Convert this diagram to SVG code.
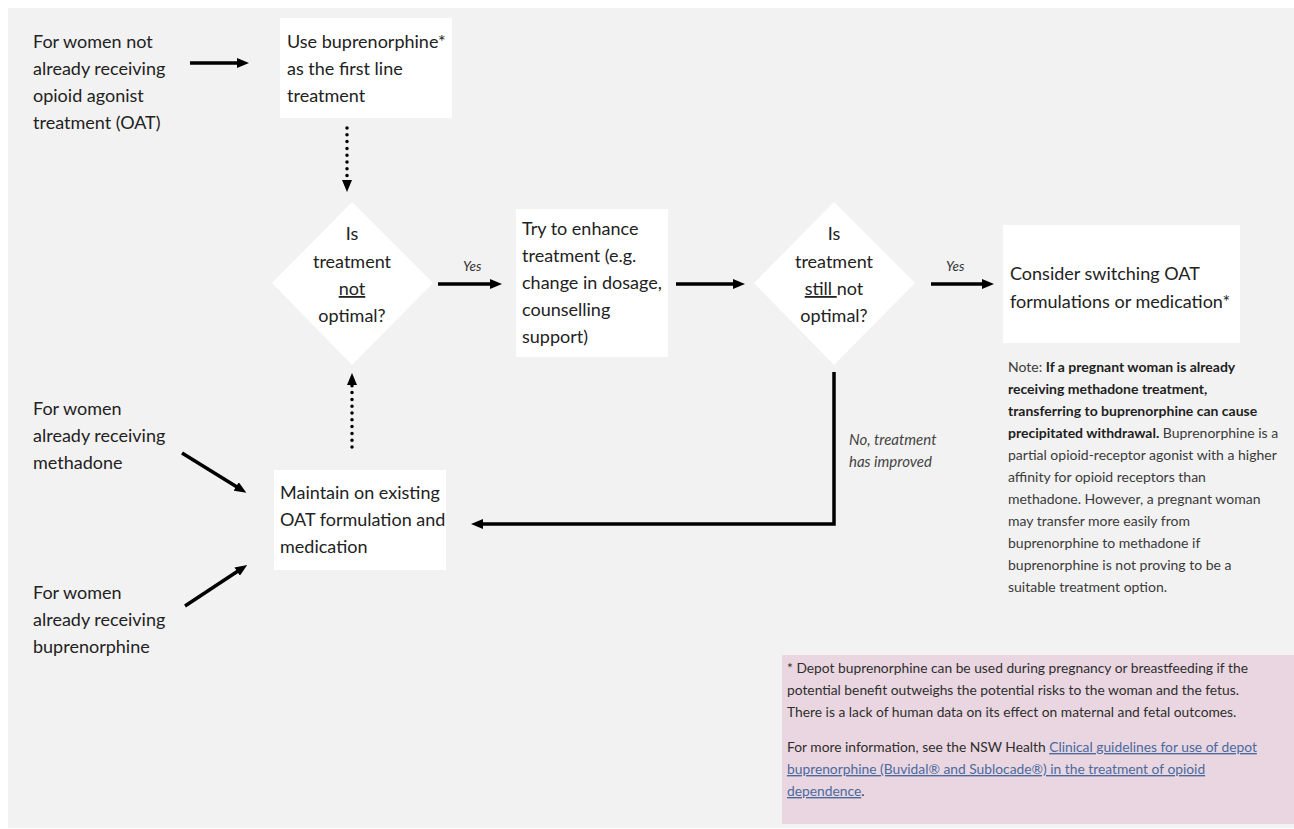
<svg xmlns="http://www.w3.org/2000/svg" width="1294" height="829" viewBox="0 0 1294 829">
  <style>
    .lbl { font-family: Lato, "Open Sans", "Liberation Sans", sans-serif; font-size: 18px; fill: #222; }
    .ctr { text-anchor: middle; }
    .yes { font-family: Lato, "Liberation Sans", sans-serif; font-size: 13.5px; font-style: italic; fill: #333; }
    .cond { font-family: Lato, "Liberation Sans", sans-serif; font-size: 15px; font-style: italic; fill: #444; }
    .note { font-family: Lato, "Liberation Sans", sans-serif; font-size: 14px; fill: #3a3a3a; }
    .note .b { font-weight: bold; fill: #1e1e1e; }
    .foot { font-family: Lato, "Liberation Sans", sans-serif; font-size: 13.8px; fill: #2e2e2e; }
    .link { fill: #4a6a9e; text-decoration: underline; }
    .box { fill: #ffffff; }
    .edge { fill: none; stroke: #000; stroke-width: 3.5; }
    .dots { fill: none; stroke: #000; stroke-width: 3.5; stroke-linecap: round; stroke-dasharray: 0 6.8; }
  </style>
  <defs>
    <marker id="head" viewBox="0 0 12 10" markerWidth="12" markerHeight="10" refX="1" refY="5" orient="auto" markerUnits="userSpaceOnUse">
      <path d="M0,0 L12,5 L0,10 z" fill="#000"/>
    </marker>
  </defs>

  <!-- page background -->
  <rect x="0" y="0" width="1294" height="829" fill="#ffffff"/>
  <rect x="8" y="8" width="1286" height="820" fill="#f2f2f2"/>

  <!-- entry: not on OAT -->
  <g id="start-no-oat">
    <text class="lbl" x="33" y="48">For women not</text>
    <text class="lbl" x="33" y="75">already receiving</text>
    <text class="lbl" x="33" y="102">opioid agonist</text>
    <text class="lbl" x="33" y="129">treatment (OAT)</text>
  </g>

  <g id="use-bup">
    <rect class="box" x="280" y="18" width="172" height="100"/>
    <text class="lbl" x="287" y="48">Use buprenorphine*</text>
    <text class="lbl" x="287" y="75">as the first line</text>
    <text class="lbl" x="287" y="102">treatment</text>
  </g>

  <g id="q-not-optimal">
    <polygon class="box" points="352,202 433,283 352,365 272,283"/>
    <text class="lbl ctr" x="352" y="240">Is</text>
    <text class="lbl ctr" x="352" y="268">treatment</text>
    <text class="lbl ctr" x="352" y="295" text-decoration="underline">not</text>
    <text class="lbl ctr" x="352" y="322">optimal?</text>
  </g>

  <g id="enhance">
    <rect class="box" x="516" y="209" width="152" height="148"/>
    <text class="lbl" x="522" y="235">Try to enhance</text>
    <text class="lbl" x="522" y="262">treatment (e.g.</text>
    <text class="lbl" x="522" y="289">change in dosage,</text>
    <text class="lbl" x="522" y="316">counselling</text>
    <text class="lbl" x="522" y="343">support)</text>
  </g>

  <g id="q-still-not-optimal">
    <polygon class="box" points="834,202 915,283 834,365 754,283"/>
    <text class="lbl ctr" x="834" y="240">Is</text>
    <text class="lbl ctr" x="834" y="268">treatment</text>
    <text class="lbl ctr" x="834" y="295"><tspan text-decoration="underline">still </tspan>not</text>
    <text class="lbl ctr" x="834" y="322">optimal?</text>
  </g>

  <g id="switch">
    <rect class="box" x="1003" y="225" width="237" height="118"/>
    <text class="lbl" x="1010" y="280">Consider switching OAT</text>
    <text class="lbl" x="1010" y="308">formulations or medication*</text>
  </g>

  <g id="maintain">
    <rect class="box" x="274" y="470" width="172" height="100"/>
    <text class="lbl" x="280" y="499">Maintain on existing</text>
    <text class="lbl" x="280" y="526">OAT formulation and</text>
    <text class="lbl" x="280" y="553">medication</text>
  </g>

  <g id="start-methadone">
    <text class="lbl" x="33" y="415">For women</text>
    <text class="lbl" x="33" y="442">already receiving</text>
    <text class="lbl" x="33" y="469">methadone</text>
  </g>

  <g id="start-bup">
    <text class="lbl" x="33" y="599">For women</text>
    <text class="lbl" x="33" y="626">already receiving</text>
    <text class="lbl" x="33" y="653">buprenorphine</text>
  </g>

  <g id="note">
    <text class="note" x="1008" y="372">Note: <tspan class="b">If a pregnant woman is already</tspan></text>
    <text class="note" x="1008" y="394"><tspan class="b">receiving methadone treatment,</tspan></text>
    <text class="note" x="1008" y="416"><tspan class="b">transferring to buprenorphine can cause</tspan></text>
    <text class="note" x="1008" y="438"><tspan class="b">precipitated withdrawal.</tspan> Buprenorphine is a</text>
    <text class="note" x="1008" y="460">partial opioid-receptor agonist with a higher</text>
    <text class="note" x="1008" y="482">affinity for opioid receptors than</text>
    <text class="note" x="1008" y="504">methadone. However, a pregnant woman</text>
    <text class="note" x="1008" y="526">may transfer more easily from</text>
    <text class="note" x="1008" y="548">buprenorphine to methadone if</text>
    <text class="note" x="1008" y="570">buprenorphine is not proving to be a</text>
    <text class="note" x="1008" y="592">suitable treatment option.</text>
  </g>

  <g id="footnote">
    <rect x="782" y="655" width="512" height="169" fill="#e9d6e0"/>
    <text class="foot" x="787" y="673">* Depot buprenorphine can be used during pregnancy or breastfeeding if the</text>
    <text class="foot" x="787" y="695">potential benefit outweighs the potential risks to the woman and the fetus.</text>
    <text class="foot" x="787" y="717">There is a lack of human data on its effect on maternal and fetal outcomes.</text>
    <text class="foot" x="787" y="752">For more information, see the NSW Health <tspan class="link">Clinical guidelines for use of depot</tspan></text>
    <text class="foot" x="787" y="774"><tspan class="link">buprenorphine (Buvidal® and Sublocade®) in the treatment of opioid</tspan></text>
    <text class="foot" x="787" y="796"><tspan class="link">dependence</tspan>.</text>
  </g>

  <g id="connectors">
    <line class="edge" x1="190" y1="63" x2="238" y2="63" marker-end="url(#head)"/>
    <line class="dots" x1="347" y1="128" x2="347" y2="181" marker-end="url(#head)"/>
    <text class="yes" x="463" y="271">Yes</text>
    <line class="edge" x1="438" y1="284" x2="491" y2="284" marker-end="url(#head)"/>
    <line class="edge" x1="676" y1="284" x2="734" y2="284" marker-end="url(#head)"/>
    <text class="yes" x="946" y="271">Yes</text>
    <line class="edge" x1="931" y1="284" x2="983" y2="284" marker-end="url(#head)"/>
    <polyline class="edge" points="834,372 834,524 482,524" marker-end="url(#head)"/>
    <text class="cond" x="849" y="445">No, treatment</text>
    <text class="cond" x="849" y="467">has improved</text>
    <line class="dots" x1="352" y1="447" x2="352" y2="384" marker-end="url(#head)"/>
    <line class="edge" x1="182" y1="453" x2="237" y2="487" marker-end="url(#head)"/>
    <line class="edge" x1="185" y1="606" x2="238" y2="571" marker-end="url(#head)"/>
  </g>
</svg>
